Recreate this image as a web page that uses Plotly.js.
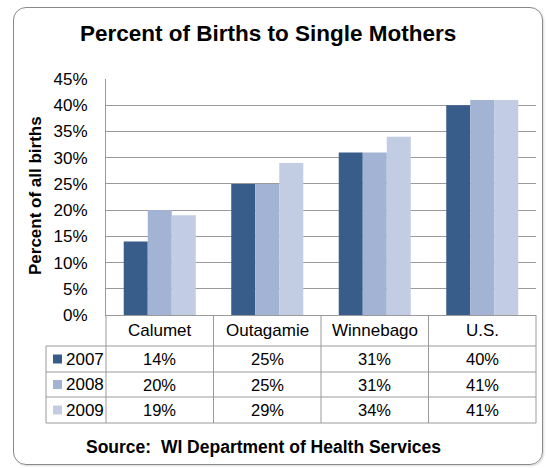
<!DOCTYPE html>
<html>
<head>
<meta charset="utf-8">
<script src="https://cdn.plot.ly/plotly-3.0.1.min.js"></script>
<style>
html,body{margin:0;padding:0;background:#fff;}
#frame{position:absolute;left:13px;top:7px;width:530px;height:458px;border:1px solid #8a8a8a;border-radius:13px;box-sizing:border-box;box-shadow:1px 1px 2px rgba(0,0,0,0.15);}
#chart{position:absolute;left:0;top:0;width:548px;height:468px;}
</style>
</head>
<body>
<div id="frame"></div>
<div id="chart"></div>
<script>
// ---- data ----
const categories = ['Calumet', 'Outagamie', 'Winnebago', 'U.S.'];
const years = ['2007', '2008', '2009'];
const values2007 = [14, 25, 31, 40];
const values2008 = [20, 25, 31, 41];
const values2009 = [19, 29, 34, 41];
const yTickValues = [0, 5, 10, 15, 20, 25, 30, 35, 40, 45];
const yTickLabels = ['0%', '5%', '10%', '15%', '20%', '25%', '30%', '35%', '40%', '45%'];
const titleText = 'Percent of Births to Single Mothers';
const yTitleText = 'Percent of all births';
const sourceText = 'Source:\u00a0 WI Department of Health Services';

// ---- styling ----
const seriesValues = [values2007, values2008, values2009];
const seriesColors = ['#385D8A', '#A2B3D3', '#C2CCE2'];
const FONT = '"Liberation Sans", Arial, Helvetica, sans-serif';
const gridColor = '#9a9a9a';
const tableColor = '#9a9a9a';

// pixel geometry helpers (plot area: x 106..536, y 79..315)
const L = 106, R = 536, T = 79, B = 315;
const W = R - L, H = B - T;
const px = x => (x - L) / W;
const py = y => (B - y) / H;

const traces = years.map((yr, i) => ({
  type: 'bar',
  name: yr,
  x: categories,
  y: seriesValues[i],
  marker: {color: seriesColors[i], line: {width: 0}},
  hoverinfo: 'skip'
}));

// table rows (pixel y of borders)
const rowLines = [346, 372, 397, 423];
const headerCenter = (B + rowLines[0]) / 2;
const rowCenters = [0, 1, 2].map(i => (rowLines[i] + rowLines[i + 1]) / 2);

const shapes = [];
const line = (x0, y0, x1, y1, xref) => shapes.push({
  type: 'line', xref: 'paper', yref: 'paper', x0: x0, y0: y0, x1: x1, y1: y1,
  line: {color: tableColor, width: 1}, layer: 'above'
});
// horizontal table lines
rowLines.forEach(y => line(px(46), py(y), 1, py(y)));
// vertical lines
line(px(46), py(rowLines[0]), px(46), py(rowLines[3]));
line(0, py(B), 0, py(rowLines[3]));
for (let k = 1; k <= categories.length; k++) {
  line(k / categories.length, py(B), k / categories.length, py(rowLines[3]));
}
// legend keys
years.forEach((yr, i) => {
  const c = rowCenters[i];
  shapes.push({
    type: 'rect', xref: 'paper', yref: 'paper',
    x0: px(53), x1: px(62), y0: py(c + 4.5), y1: py(c - 4.5),
    fillcolor: seriesColors[i], line: {width: 0}
  });
});

const annotations = [];
// title
annotations.push({
  text: '<b>' + titleText + '</b>', xref: 'paper', yref: 'paper',
  x: px(268), y: py(33), showarrow: false, xanchor: 'center', yanchor: 'middle',
  font: {family: FONT, size: 22.5, color: '#000'}
});
// y axis title
annotations.push({
  text: '<b>' + yTitleText + '</b>', xref: 'paper', yref: 'paper',
  x: px(35), y: py(196), showarrow: false, textangle: -90,
  xanchor: 'center', yanchor: 'middle',
  font: {family: FONT, size: 17, color: '#000'}
});
// source
annotations.push({
  text: '<b>' + sourceText + '</b>', xref: 'paper', yref: 'paper',
  x: px(263), y: py(447), showarrow: false, xanchor: 'center', yanchor: 'middle',
  font: {family: FONT, size: 17.5, color: '#000'}
});
// category headers
categories.forEach(cat => annotations.push({
  text: cat, xref: 'x', yref: 'paper', x: cat, y: py(headerCenter),
  showarrow: false, xanchor: 'center', yanchor: 'middle',
  font: {family: FONT, size: 17, color: '#000'}
}));
// table values & legend labels
years.forEach((yr, i) => {
  annotations.push({
    text: yr, xref: 'paper', yref: 'paper', x: px(64), y: py(rowCenters[i]),
    showarrow: false, xanchor: 'left', yanchor: 'middle',
    font: {family: FONT, size: 17, color: '#000'}
  });
  categories.forEach((cat, j) => annotations.push({
    text: seriesValues[i][j] + '%', xref: 'x', yref: 'paper', x: cat, y: py(rowCenters[i]),
    showarrow: false, xanchor: 'center', yanchor: 'middle',
    font: {family: FONT, size: 16.5, color: '#000'}
  }));
});

const layout = {
  width: 548, height: 468,
  margin: {l: L, r: 548 - R, t: T, b: 468 - B, pad: 0},
  paper_bgcolor: 'rgba(0,0,0,0)',
  plot_bgcolor: 'rgba(0,0,0,0)',
  showlegend: false,
  barmode: 'group',
  bargap: 0.33,
  bargroupgap: 0,
  xaxis: {
    type: 'category', showticklabels: false, ticks: '',
    showgrid: false, zeroline: false,
    showline: true, linecolor: tableColor, linewidth: 1,
    fixedrange: true
  },
  yaxis: {
    range: [0, 45], tickvals: yTickValues, ticktext: yTickLabels,
    showgrid: true, gridcolor: gridColor, gridwidth: 1,
    zeroline: false, showline: true, linecolor: gridColor, linewidth: 1,
    ticks: '', ticklabelstandoff: 14,
    tickfont: {family: FONT, size: 17, color: '#000'},
    fixedrange: true
  },
  shapes: shapes,
  annotations: annotations,
  font: {family: FONT}
};

Plotly.newPlot('chart', traces, layout, {displayModeBar: false, staticPlot: true});
</script>
</body>
</html>
